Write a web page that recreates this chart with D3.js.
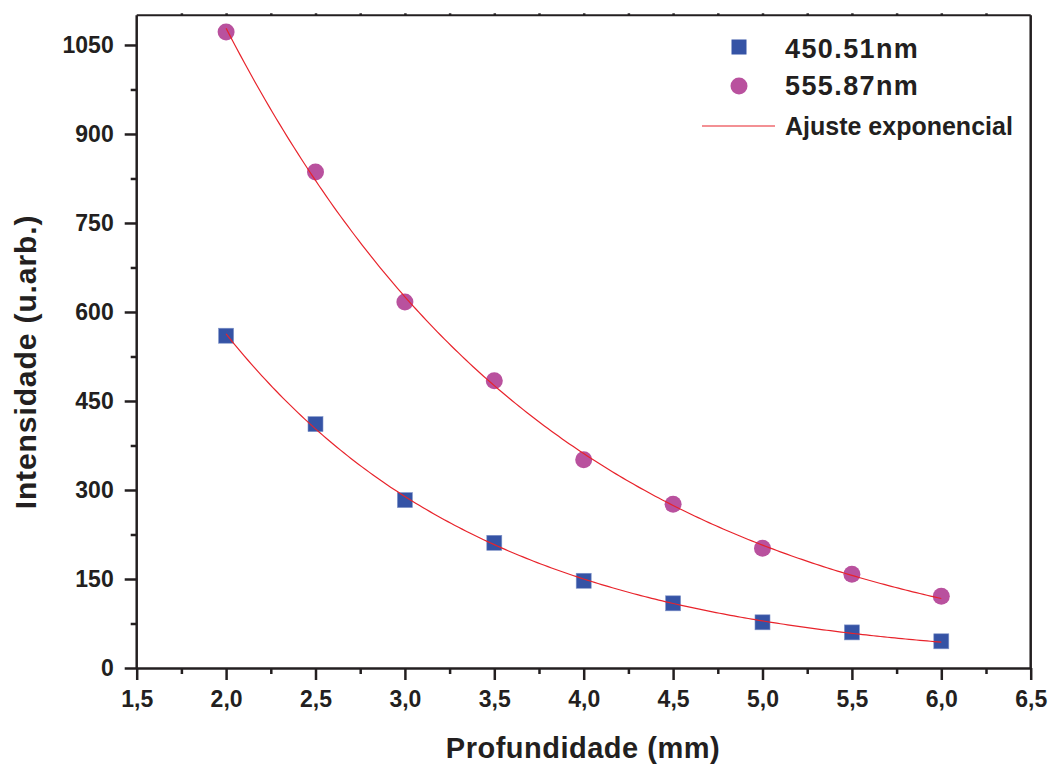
<!DOCTYPE html>
<html>
<head>
<meta charset="utf-8">
<title>Intensidade x Profundidade</title>
<script src="https://cdn.jsdelivr.net/npm/d3@7"></script>
<style>
    body {margin:0; background:white;}
    text {font-family:"Liberation Sans", Arial, Helvetica, sans-serif; fill:#231f20;}
    .axis path, .axis line {stroke:#231f20;}
</style>
</head>
<body>
<svg id="graph1"></svg>
<script>
// profundidade (mm)
var depths = [2.0, 2.5, 3.0, 3.5, 4.0, 4.5, 5.0, 5.5, 6.0];
// intensidade medida em cada linha
var blue450 = [560, 411, 283, 211, 147, 109, 77, 60, 45];
var pink555 = [1072, 836, 617, 484, 351, 276, 202, 158, 121];

var xTicks = [1.5, 2.0, 2.5, 3.0, 3.5, 4.0, 4.5, 5.0, 5.5, 6.0, 6.5];
var yTicks = [0, 150, 300, 450, 600, 750, 900, 1050];

var seriesNames = ["450.51nm", "555.87nm"];
var fitName = "Ajuste exponencial";

// y = y0 + A*exp(-x/t), t by grid search, y0 and A by least squares
var expFit = function(xs, ys)
{
    var best = null;
    for (var t = 0.2; t <= 10; t += 0.002)
    {
        var e = xs.map(function(x) {return Math.exp(-x/t)});
        var n = xs.length, se = 0, see = 0, sy = 0, sey = 0;
        for (var i = 0; i < n; i++)
        {
            se += e[i]; see += e[i]*e[i]; sy += ys[i]; sey += e[i]*ys[i];
        }
        var det = n*see - se*se;
        var A = (n*sey - se*sy)/det;
        var y0 = (sy - A*se)/n;
        var sse = 0;
        for (var j = 0; j < n; j++)
        {
            var r = y0 + A*e[j] - ys[j];
            sse += r*r;
        }
        if (best == null || sse < best.sse) {best = {t:t, A:A, y0:y0, sse:sse}}
    }
    return best;
}

var drawChart = function(target)
{
    var screen = {width:1049, height:766};
    var margins = {top:15.3, left:136.7, right:18.3, bottom:98};
    var graph =
    {
        width:screen.width-margins.left-margins.right,
        height:screen.height-margins.top-margins.bottom
    }

    var svg = d3.select(target)
        .attr("width", screen.width)
        .attr("height", screen.height)

    var xScale = d3.scaleLinear()
        .domain([1.5, 6.5])
        .range([margins.left, margins.left+graph.width])

    var yScale = d3.scaleLinear()
        .domain([0, 1100])
        .range([margins.top+graph.height, margins.top])

    var fmt = function(d) {return d3.format(".1f")(d).replace(".", ",")}

    // minor ticks first, then the major axes on top
    var xMinor = d3.axisBottom(xScale)
        .tickValues(d3.range(1.75, 6.5, 0.5))
        .tickSize(6).tickFormat("")
    svg.append("g").attr("class", "axis")
        .attr("transform", "translate(0,"+yScale(0)+")")
        .call(xMinor)
        .call(function(g) {g.select(".domain").remove()})

    var yMinor = d3.axisLeft(yScale)
        .tickValues(d3.range(75, 1100, 150))
        .tickSize(6).tickFormat("")
    svg.append("g").attr("class", "axis")
        .attr("transform", "translate("+xScale(1.5)+",0)")
        .call(yMinor)
        .call(function(g) {g.select(".domain").remove()})

    // tiny ticks on top frame
    var xTop = d3.axisTop(xScale)
        .tickValues(d3.range(1.75, 6.5, 0.25))
        .tickSize(2).tickFormat("")
    svg.append("g").attr("class", "axis")
        .attr("transform", "translate(0,"+yScale(1100)+")")
        .call(xTop)
        .call(function(g) {g.select(".domain").remove()})
        .selectAll("line").attr("stroke", "#8a8a8a").attr("stroke-width", 1)

    var xAxis = d3.axisBottom(xScale)
        .tickValues(xTicks)
        .tickSize(12).tickSizeOuter(0)
        .tickPadding(11)
        .tickFormat(fmt)
    svg.append("g").attr("class", "axis")
        .attr("transform", "translate(0,"+yScale(0)+")")
        .call(xAxis)
        .call(function(g)
        {
            g.selectAll("text").style("font-size", "23px").style("font-weight", "bold")
                .attr("fill", "#231f20")
        })

    var yAxis = d3.axisLeft(yScale)
        .tickValues(yTicks)
        .tickSize(12).tickSizeOuter(0)
        .tickPadding(11)
        .tickFormat(d3.format("d"))
    svg.append("g").attr("class", "axis")
        .attr("transform", "translate("+xScale(1.5)+",0)")
        .call(yAxis)
        .call(function(g)
        {
            g.select(".domain").attr("d", "M0,"+yScale(0)+"V"+yScale(1100))
            g.selectAll("text").style("font-size", "23px").style("font-weight", "bold")
                .attr("fill", "#231f20")
        })

    // frame: top and right
    svg.append("line")
        .attr("x1", xScale(1.5)).attr("x2", xScale(6.5))
        .attr("y1", yScale(1100)).attr("y2", yScale(1100))
        .attr("stroke", "#231f20").attr("stroke-width", 2)
    svg.append("line")
        .attr("x1", xScale(6.5)).attr("x2", xScale(6.5))
        .attr("y1", yScale(1100)).attr("y2", yScale(0))
        .attr("stroke", "#231f20").attr("stroke-width", 2.5)

    svg.selectAll(".axis path, .axis line").attr("stroke-width", 2.5)
    svg.selectAll(".axis g.tick line").attr("stroke-width", 2.5)

    // exponential fits
    var curve = d3.line()
        .x(function(p) {return xScale(p[0])})
        .y(function(p) {return yScale(p[1])})

    var drawFit = function(ys)
    {
        var f = expFit(depths, ys);
        console.log("fit", f);
        var pts = d3.range(d3.min(depths), d3.max(depths)+0.001, 0.02).map(function(x)
        {
            return [x, f.y0 + f.A*Math.exp(-x/f.t)];
        })
        svg.append("path")
            .datum(pts)
            .attr("fill", "none")
            .attr("stroke", "#e8232b")
            .attr("stroke-width", 1.2)
            .attr("d", curve)
    }

    // points
    var sq = 15;
    svg.append("g").selectAll("rect")
        .data(depths)
        .enter().append("rect")
        .attr("x", function(d) {return xScale(d)-sq/2})
        .attr("y", function(d, i) {return yScale(blue450[i])-sq/2})
        .attr("width", sq).attr("height", sq)
        .attr("fill", "#3553a5")
        .attr("stroke", "#7f93c8").attr("stroke-width", 0.6)

    svg.append("g").selectAll("circle")
        .data(depths)
        .enter().append("circle")
        .attr("cx", function(d) {return xScale(d)})
        .attr("cy", function(d, i) {return yScale(pink555[i])})
        .attr("r", 8.5)
        .attr("fill", "#b9519e")

    drawFit(blue450);
    drawFit(pink555);

    // legend
    var legend = svg.append("g").attr("transform", "translate(739,0)")
    legend.append("rect")
        .attr("x", -7.5).attr("y", 47-7.5)
        .attr("width", sq).attr("height", sq)
        .attr("fill", "#3553a5")
    legend.append("circle")
        .attr("cx", 0).attr("cy", 86).attr("r", 8.5)
        .attr("fill", "#b9519e")
    legend.append("line")
        .attr("x1", -37).attr("x2", 36)
        .attr("y1", 126).attr("y2", 126)
        .attr("stroke", "#e8232b").attr("stroke-width", 1.2)

    legend.selectAll(".lbl")
        .data(seriesNames)
        .enter().append("text")
        .attr("x", 46)
        .attr("y", function(d, i) {return 58 + i*37})
        .style("font-size", "27px").style("font-weight", "bold")
        .style("letter-spacing", "1.4px")
        .text(function(d) {return d})
    legend.append("text")
        .attr("x", 46).attr("y", 135)
        .style("font-size", "25px").style("font-weight", "bold")
        .text(fitName)

    // axis titles
    svg.append("text")
        .attr("x", 583).attr("y", 758)
        .attr("text-anchor", "middle")
        .style("font-size", "29px").style("font-weight", "bold")
        .style("letter-spacing", "0.5px")
        .text("Profundidade (mm)")

    svg.append("g")
        .attr("transform", "translate(36,362)")
        .append("text")
        .attr("text-anchor", "middle")
        .attr("transform", "rotate(-90)")
        .style("font-size", "30px").style("font-weight", "bold")
        .style("letter-spacing", "0.9px")
        .text("Intensidade (u.arb.)")
}

drawChart("#graph1");
</script>
</body>
</html>
